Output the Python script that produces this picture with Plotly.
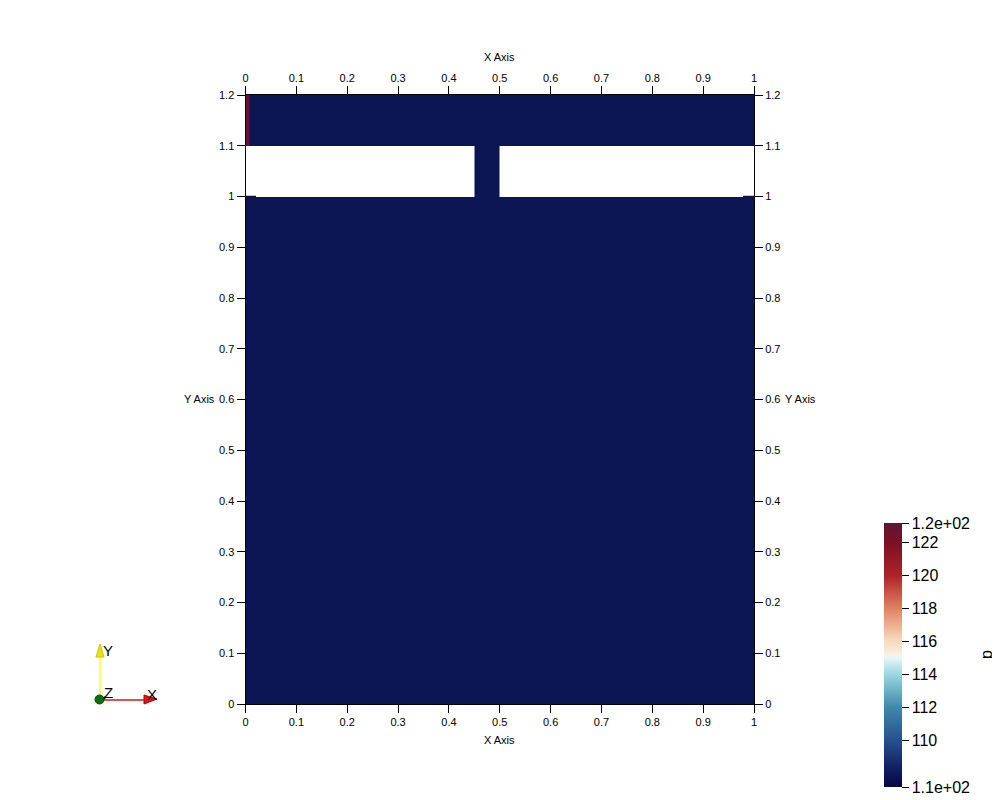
import plotly.graph_objects as go

# ---- data ----
x_edges = [0.0, 0.007, 0.45, 0.5, 1.0]
y_edges = [0.0, 1.0, 1.1, 1.2]
p_bottom = [107.8, 107.8, 107.8, 107.8]      # y 0 .. 1.0
p_middle = [None, None, 107.8, None]          # y 1.0 .. 1.1 (channel only)
p_top = [123.0, 107.8, 107.8, 107.8]          # y 1.1 .. 1.2 (inlet strip at left)
p_min, p_max = 107.2, 123.2
cbar_vals = [107.2, 110, 112, 114, 116, 118, 120, 122, 123.2]
cbar_text = ["1.1e+02", "110", "112", "114", "116", "118", "120", "122", "1.2e+02"]
x_ticks = [0, 0.1, 0.2, 0.3, 0.4, 0.5, 0.6, 0.7, 0.8, 0.9, 1]
y_ticks = [0, 0.1, 0.2, 0.3, 0.4, 0.5, 0.6, 0.7, 0.8, 0.9, 1, 1.1, 1.2]

colorscale = [
    [0.0, "rgb(5,8,70)"],
    [0.08, "rgb(18,35,100)"],
    [0.175, "rgb(38,80,140)"],
    [0.3, "rgb(65,135,170)"],
    [0.42, "rgb(150,210,222)"],
    [0.49, "rgb(230,248,250)"],
    [0.5, "rgb(252,240,222)"],
    [0.56, "rgb(245,215,185)"],
    [0.675, "rgb(225,130,100)"],
    [0.8, "rgb(175,35,40)"],
    [0.925, "rgb(125,15,35)"],
    [1.0, "rgb(95,20,55)"],
]

W, H = 1000, 800
OFF = 8  # page body margin offset
def px(x):
    return (x - OFF) / W
def py(y):
    return 1 - (y - OFF) / H

FONT = "Liberation Sans, Arial, sans-serif"

fig = go.Figure()
fig.add_trace(go.Heatmap(
    x=x_edges, y=y_edges, z=[p_bottom, p_middle, p_top],
    zmin=p_min, zmax=p_max, colorscale=colorscale,
    hoverongaps=False,
    colorbar=dict(
        xref="container", yref="container",
        x=px(884), xanchor="left", y=py(787), yanchor="bottom", xpad=0, ypad=0,
        len=264, lenmode="pixels", thickness=18, thicknessmode="pixels",
        outlinewidth=0, ticks="outside", ticklen=7, tickcolor="black", tickwidth=1,
        tickvals=cbar_vals, ticktext=cbar_text,
        tickfont=dict(family=FONT, size=16, color="black"),
    ),
))
# invisible trace for top/right axes
fig.add_trace(go.Scatter(x=[0, 1], y=[0, 1.2], xaxis="x2", yaxis="y2",
                         mode="markers", marker=dict(opacity=0), showlegend=False,
                         hoverinfo="skip"))

xdom = [px(245.5), px(754)]
ydom = [py(704), py(95)]
axis_common = dict(showgrid=False, zeroline=False, showline=True, linecolor="black",
                   linewidth=1, ticks="outside", ticklen=8, tickcolor="black",
                   automargin=False,
                   tickfont=dict(family=FONT, size=11, color="black"))

fig.update_layout(
    template="none",
    width=W, height=H, margin=dict(l=0, r=0, t=0, b=0, pad=0, autoexpand=False),
    paper_bgcolor="white", plot_bgcolor="white", showlegend=False,
    xaxis=dict(domain=xdom, range=[0, 1], tickvals=x_ticks, anchor="y", **axis_common),
    yaxis=dict(domain=ydom, range=[0, 1.2], tickvals=y_ticks, anchor="x", **axis_common),
    xaxis2=dict(domain=xdom, range=[0, 1], tickvals=x_ticks, overlaying="x", side="top",
                anchor="y2", **axis_common),
    yaxis2=dict(domain=ydom, range=[0, 1.2], tickvals=y_ticks, overlaying="y", side="right",
                anchor="x2", **axis_common),
)

ann_font = dict(family=FONT, size=11, color="black")
annotations = [
    dict(x=px(499), y=py(57), text="X Axis"),
    dict(x=px(499), y=py(740), text="X Axis"),
    dict(x=px(199), y=py(399), text="Y Axis"),
    dict(x=px(800), y=py(399), text="Y Axis"),
]
for a in annotations:
    a.update(xref="paper", yref="paper", showarrow=False, font=ann_font,
             xanchor="center", yanchor="middle")
annotations.append(dict(x=px(986), y=py(655), xref="paper", yref="paper", text="p",
                        showarrow=False, textangle=-90, xanchor="center", yanchor="middle",
                        font=dict(family=FONT, size=16, color="black")))
# orientation triad labels
for t, xx, yy in [("Y", 108, 650), ("X", 152, 694), ("Z", 108, 692)]:
    annotations.append(dict(x=px(xx), y=py(yy), xref="paper", yref="paper", text=t,
                            showarrow=False, xanchor="center", yanchor="middle",
                            font=dict(family=FONT, size=15, color="black")))
fig.update_layout(annotations=annotations)

shapes = [
    # yellow Y arrow
    dict(type="line", x0=px(100), y0=py(700), x1=px(100), y1=py(656),
         line=dict(color="rgb(255,255,100)", width=2)),
    dict(type="path", path=f"M {px(96)} {py(657)} L {px(104)} {py(657)} L {px(100)} {py(644)} Z",
         fillcolor="rgb(230,230,20)", line=dict(color="rgb(200,200,0)", width=1)),
    # red X arrow
    dict(type="line", x0=px(100), y0=py(700), x1=px(145), y1=py(700),
         line=dict(color="rgb(200,30,30)", width=1.5)),
    dict(type="path", path=f"M {px(144)} {py(695)} L {px(144)} {py(704)} L {px(157)} {py(699)} Z",
         fillcolor="rgb(220,20,20)", line=dict(color="rgb(180,0,0)", width=1)),
    # short black Z stub
    dict(type="line", x0=px(100), y0=py(700), x1=px(106), y1=py(697),
         line=dict(color="black", width=2)),
    # green origin
    dict(type="circle", x0=px(95), y0=py(704), x1=px(104), y1=py(695),
         fillcolor="rgb(10,110,10)", line=dict(color="rgb(0,80,0)", width=1)),
    # small inward tick segments at y = 1 on both sides
    dict(type="line", x0=px(245.5), y0=py(196.5), x1=px(256), y1=py(196.5),
         line=dict(color="rgb(20,20,40)", width=1.5)),
    dict(type="line", x0=px(743), y0=py(196.5), x1=px(754), y1=py(196.5),
         line=dict(color="rgb(20,20,40)", width=1.5)),
]
for s in shapes:
    s.update(xref="paper", yref="paper")
fig.update_layout(shapes=shapes)

fig.write_html("out.html")
